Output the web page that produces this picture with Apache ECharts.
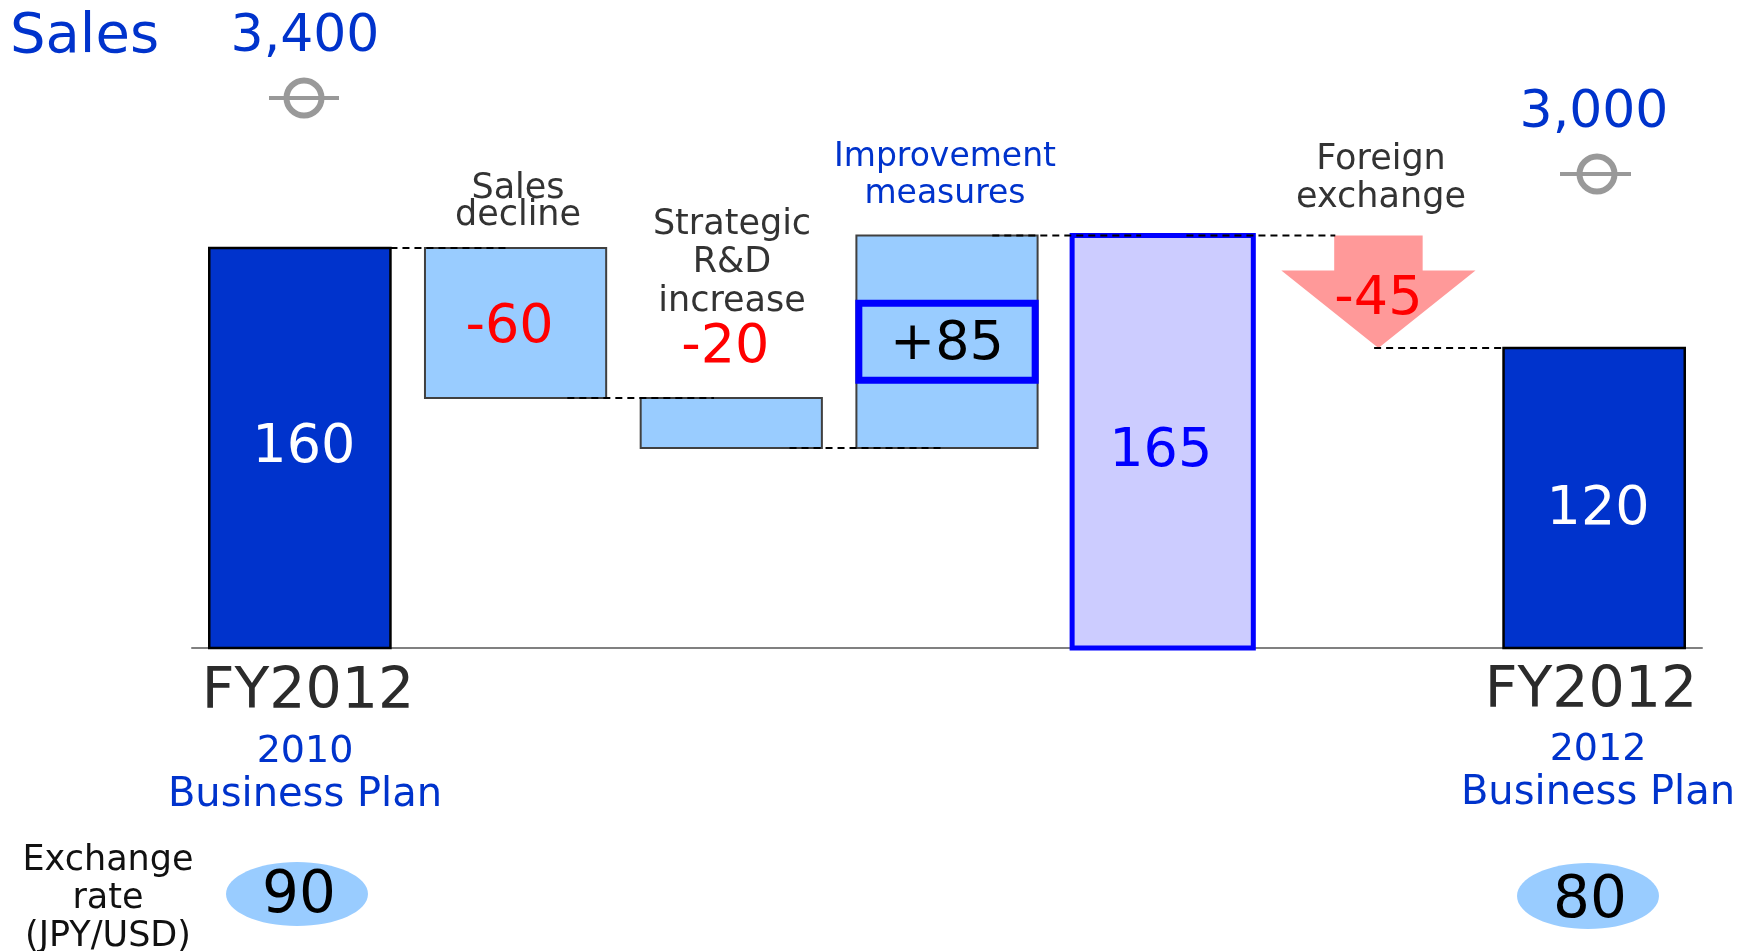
<!DOCTYPE html>
<html>
<head>
<meta charset="utf-8">
<script src="https://cdn.jsdelivr.net/npm/echarts@6/dist/echarts.min.js"></script>
<style>
html,body{margin:0;padding:0;background:#fff;}
#main{width:1744px;height:951px;}
</style>
</head>
<body>
<div id="main"></div>
<script>
// ---- data ----
const categories = ['FY2012 (2010 Business Plan)', 'Sales decline', 'Strategic R&D increase', 'Improvement measures', 'Subtotal', 'Foreign exchange', 'FY2012 (2012 Business Plan)'];
const barStart = [0, 160, 100, 80, 0, 165, 0];
const barEnd = [160, 100, 80, 165, 165, 120, 120];
const valueLabels = ['160', '-60', '-20', '+85', '165', '-45', '120'];
const connectorLevels = [160, 100, 80, 165, 165, 120];
const salesLabels = ['3,400', '3,000'];
const exchangeRates = ['90', '80'];

// ---- styles ----
const FONT = "'DejaVu Sans', Verdana, sans-serif";
const BLUE_TEXT = '#0033cc';
const DARK_TEXT = '#333333';
// connector spans: [fromCategory, fromOffset(band), toCategory, toOffset(band)]
const connectorSpans = [[0, 0.42, 1, -0.04], [1, 0.24, 2, -0.08], [2, 0.27, 3, -0.03], [3, 0.21, 4, -0.1], [4, 0.11, 5, -0.2], [5, -0.02, 6, -0.42]];
// label offsets (px) per bar
const labelDy = [0, 5, -50, 3, 10, 64, 12];
const labelDx = [4, -6, -6, 0, -2, 0, 4];

const chart = echarts.init(document.getElementById('main'), null, {renderer: 'canvas'});

function barStyle(i) {
  if (i === 0 || i === 6) return {fill: '#0033cc', stroke: '#000000', lineWidth: 2.5};
  if (i === 4) return {fill: '#ccccff', stroke: '#0000ff', lineWidth: 5};
  return {fill: '#99ccff', stroke: '#404040', lineWidth: 2};
}
function labelColor(i) {
  if (i === 0 || i === 6) return '#ffffff';
  if (i === 4) return '#0000ff';
  if (i === 3) return '#000000';
  return '#ff0000';
}

const option = {
  animation: false,
  backgroundColor: '#ffffff',
  grid: {left: 192, right: 42, top: 0, bottom: 0},
  xAxis: {
    type: 'category',
    data: categories,
    axisLine: {show: true, onZero: true, lineStyle: {color: '#808080', width: 2}},
    axisTick: {show: false},
    axisLabel: {show: false},
    splitLine: {show: false}
  },
  yAxis: {
    type: 'value',
    min: -121.2,
    max: 259.2,
    show: false,
    splitLine: {show: false}
  },
  series: [
    {
      type: 'custom',
      name: 'bars',
      z: 2,
      clip: false,
      data: categories.map((c, i) => [i, barStart[i], barEnd[i]]),
      encode: {x: 0, y: [1, 2]},
      renderItem: function (params, api) {
        const i = params.dataIndex;
        const s = api.value(1), e = api.value(2);
        const ps = api.coord([i, s]);
        const pe = api.coord([i, e]);
        const band = api.size([1, 0])[0];
        const cx = ps[0];
        const yTop = Math.min(ps[1], pe[1]);
        const yBot = Math.max(ps[1], pe[1]);
        const children = [];
        const textBase = {font: '54px ' + FONT, fill: labelColor(i), align: 'center', verticalAlign: 'middle'};
        if (i === 5) {
          const stemHalf = band * 0.205, headHalf = band * 0.45;
          const headY = yTop + (yBot - yTop) * 0.31;
          children.push({
            type: 'polygon',
            shape: {points: [
              [cx - stemHalf, yTop], [cx + stemHalf, yTop], [cx + stemHalf, headY],
              [cx + headHalf, headY], [cx, yBot], [cx - headHalf, headY], [cx - stemHalf, headY]
            ]},
            style: {fill: '#ff9999'}
          });
          children.push({type: 'text', z2: 10, style: Object.assign({text: valueLabels[i], x: cx + labelDx[i], y: yTop + labelDy[i]}, textBase)});
        } else {
          const w = band * 0.84;
          children.push({
            type: 'rect',
            shape: {x: cx - w / 2, y: yTop, width: w, height: yBot - yTop},
            style: barStyle(i)
          });
          let ty = (yTop + yBot) / 2 + labelDy[i];
          const tx = cx + labelDx[i];
          if (i === 2) ty = yTop + labelDy[i];
          if (i === 3) {
            const bw = band * 0.85;
            const by = (yTop + yBot) / 2;
            children.push({
              type: 'rect', z2: 5,
              shape: {x: cx - bw / 2 + 3.5, y: by - 38.5, width: bw - 7, height: 77},
              style: {fill: 'none', stroke: '#0000ff', lineWidth: 7}
            });
          }
          children.push({type: 'text', z2: 10, style: Object.assign({text: valueLabels[i], x: tx, y: ty}, textBase)});
        }
        return {type: 'group', children: children};
      }
    },
    {
      type: 'custom',
      name: 'connectors',
      z: 3,
      clip: false,
      data: connectorLevels.map((v, k) => [k, v]),
      encode: {x: 0, y: 1},
      renderItem: function (params, api) {
        const k = api.value(0);
        const v = api.value(1);
        const sp = connectorSpans[k];
        const band = api.size([1, 0])[0];
        const p1 = api.coord([sp[0], v]);
        const p2 = api.coord([sp[2], v]);
        return {
          type: 'line',
          shape: {x1: p1[0] + sp[1] * band, y1: p1[1], x2: p2[0] + sp[3] * band, y2: p2[1]},
          style: {stroke: '#000000', lineWidth: 2, lineDash: [7, 5]}
        };
      }
    }
  ],
  graphic: [
    {type: 'text', style: {text: 'Sales', x: 10, y: 37, font: '56px ' + FONT, fill: BLUE_TEXT, align: 'left', verticalAlign: 'middle'}},
    {type: 'text', style: {text: salesLabels[0], x: 305, y: 37, font: '52px ' + FONT, fill: BLUE_TEXT, align: 'center', verticalAlign: 'middle'}},
    {type: 'line', shape: {x1: 269, y1: 98, x2: 339, y2: 98}, style: {stroke: '#999999', lineWidth: 4}},
    {type: 'circle', shape: {cx: 304, cy: 98, r: 17.5}, style: {fill: 'none', stroke: '#999999', lineWidth: 6}},
    {type: 'text', style: {text: salesLabels[1], x: 1594, y: 113, font: '52px ' + FONT, fill: BLUE_TEXT, align: 'center', verticalAlign: 'middle'}},
    {type: 'line', shape: {x1: 1560, y1: 174, x2: 1631, y2: 174}, style: {stroke: '#999999', lineWidth: 4}},
    {type: 'circle', shape: {cx: 1597, cy: 174, r: 17.5}, style: {fill: 'none', stroke: '#999999', lineWidth: 6}},

    {type: 'text', style: {text: 'Sales\ndecline', x: 518, y: 202, font: '35px ' + FONT, lineHeight: 27, fill: DARK_TEXT, align: 'center', verticalAlign: 'middle'}},
    {type: 'text', style: {text: 'Strategic\nR&D\nincrease', x: 732, y: 263, font: '35px ' + FONT, lineHeight: 38.5, fill: DARK_TEXT, align: 'center', verticalAlign: 'middle'}},
    {type: 'text', style: {text: 'Improvement\nmeasures', x: 945, y: 176, font: '33px ' + FONT, lineHeight: 37, fill: BLUE_TEXT, align: 'center', verticalAlign: 'middle'}},
    {type: 'text', style: {text: 'Foreign\nexchange', x: 1381, y: 179, font: '35px ' + FONT, lineHeight: 38, fill: DARK_TEXT, align: 'center', verticalAlign: 'middle'}},

    {type: 'text', style: {text: 'FY2012', x: 308, y: 693, font: '57px ' + FONT, fill: '#2b2b2b', align: 'center', verticalAlign: 'middle'}},
    {type: 'text', style: {text: '2010', x: 305, y: 752, font: '38px ' + FONT, fill: BLUE_TEXT, align: 'center', verticalAlign: 'middle'}},
    {type: 'text', style: {text: 'Business Plan', x: 305, y: 796, font: '40px ' + FONT, fill: BLUE_TEXT, align: 'center', verticalAlign: 'middle'}},
    {type: 'text', style: {text: 'FY2012', x: 1591, y: 692, font: '57px ' + FONT, fill: '#2b2b2b', align: 'center', verticalAlign: 'middle'}},
    {type: 'text', style: {text: '2012', x: 1598, y: 750, font: '38px ' + FONT, fill: BLUE_TEXT, align: 'center', verticalAlign: 'middle'}},
    {type: 'text', style: {text: 'Business Plan', x: 1598, y: 794, font: '40px ' + FONT, fill: BLUE_TEXT, align: 'center', verticalAlign: 'middle'}},

    {type: 'text', style: {text: 'Exchange\nrate\n(JPY/USD)', x: 108, y: 899, font: '35px ' + FONT, lineHeight: 38, fill: '#111111', align: 'center', verticalAlign: 'middle'}},
    {type: 'ellipse', shape: {cx: 297, cy: 894, rx: 71, ry: 32}, style: {fill: '#99ccff'}},
    {type: 'text', z: 10, style: {text: exchangeRates[0], x: 299, y: 897, font: '58px ' + FONT, fill: '#000000', align: 'center', verticalAlign: 'middle'}},
    {type: 'ellipse', shape: {cx: 1588, cy: 896, rx: 71, ry: 33}, style: {fill: '#99ccff'}},
    {type: 'text', z: 10, style: {text: exchangeRates[1], x: 1590, y: 902, font: '58px ' + FONT, fill: '#000000', align: 'center', verticalAlign: 'middle'}}
  ]
};
chart.setOption(option);
</script>
</body>
</html>
